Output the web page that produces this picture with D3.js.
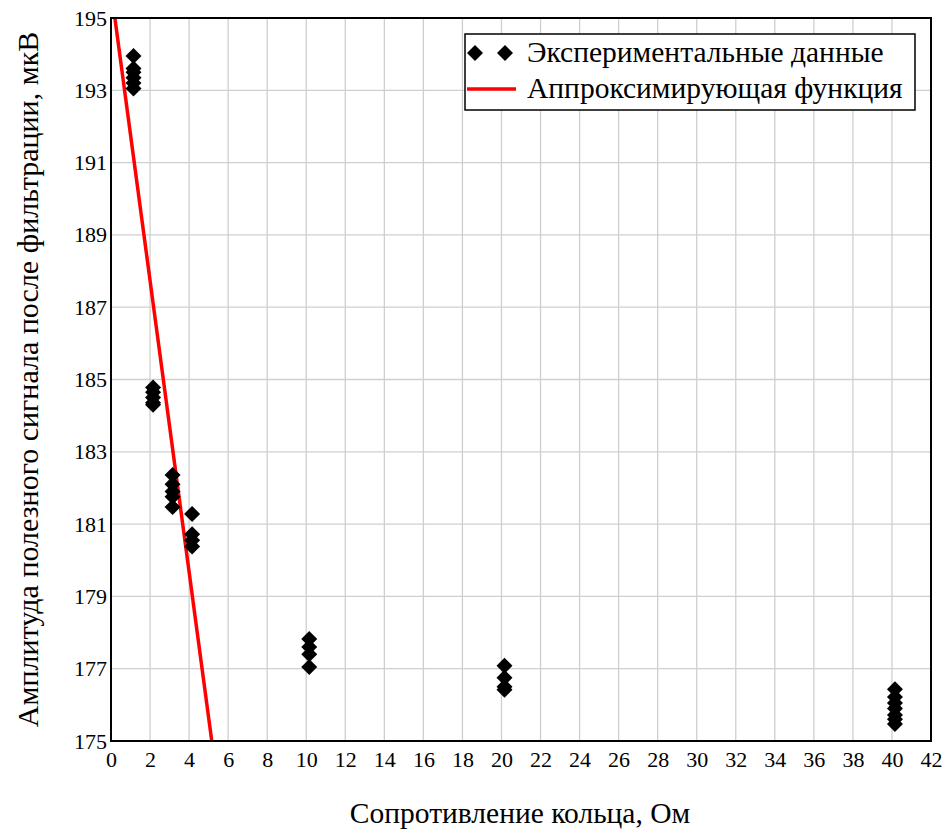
<!DOCTYPE html>
<html>
<head>
<meta charset="utf-8">
<script src="https://cdn.jsdelivr.net/npm/d3@7"></script>
<style>
  body { margin: 0; background: #fff; }
  svg { display: block; font-family: "Liberation Serif", "Times New Roman", serif; }
</style>
</head>
<body>
<svg id="chart" width="951" height="829"></svg>
<script>
// resistance categories (Ohm) and measured amplitudes (uV)
var resist = [1, 2, 3, 4, 10, 20, 40];
var measured = [
  [193.95, 193.6, 193.5, 193.35, 193.2, 193.05],
  [184.78, 184.65, 184.5, 184.36, 184.3],
  [182.36, 182.1, 181.9, 181.76, 181.47],
  [181.28, 180.72, 180.55, 180.38],
  [177.82, 177.6, 177.4, 177.05],
  [177.08, 176.75, 176.5, 176.42],
  [176.43, 176.22, 176.05, 175.9, 175.72, 175.6, 175.47]
];
// approximating line y = a - b*x
var fitA = 195.8;
var fitB = 4.03;
var xTicks = d3.range(0, 43, 2);
var yTicks = d3.range(175, 196, 2);

(function drawChart () {
  var pLeft = 111, pTop = 18, pRight = 931, pBottom = 741;
  var svg = d3.select('#chart');

  var x = d3.scaleLinear().domain([0, 42]).range([pLeft, pRight]);
  var y = d3.scaleLinear().domain([175, 195]).range([pBottom, pTop]);

  // grid
  svg.append('g')
    .selectAll('line')
    .data(xTicks)
    .join('line')
    .attr('x1', x).attr('x2', x)
    .attr('y1', pTop).attr('y2', pBottom)
    .attr('stroke', '#cfcfcf')
    .attr('stroke-width', 1.3);

  svg.append('g')
    .selectAll('line')
    .data(yTicks)
    .join('line')
    .attr('x1', pLeft).attr('x2', pRight)
    .attr('y1', y).attr('y2', y)
    .attr('stroke', '#cfcfcf')
    .attr('stroke-width', 1.3);

  // axes (labels only)
  var xAxis = svg.append('g')
    .attr('transform', 'translate(0,' + pBottom + ')')
    .call(d3.axisBottom(x).tickValues(xTicks).tickSize(0).tickPadding(10));
  var yAxis = svg.append('g')
    .attr('transform', 'translate(' + pLeft + ',0)')
    .call(d3.axisLeft(y).tickValues(yTicks).tickSize(0).tickPadding(4));

  [xAxis, yAxis].forEach(function (ax) {
    ax.select('.domain').remove();
    ax.selectAll('text')
      .attr('fill', '#000')
      .style('font-family', '"Liberation Serif", serif')
      .style('font-size', '22px');
  });

  // clip for the fit line
  svg.append('clipPath').attr('id', 'plot-clip')
    .append('rect')
    .attr('x', pLeft).attr('y', pTop)
    .attr('width', pRight - pLeft).attr('height', pBottom - pTop);

  var fitX = [0, (fitA - 175) / fitB];
  svg.append('path')
    .attr('clip-path', 'url(#plot-clip)')
    .attr('d', d3.line()
      .x(function (d) { return x(d); })
      .y(function (d) { return y(fitA - fitB * d); })(fitX))
    .attr('fill', 'none')
    .attr('stroke', '#ff0000')
    .attr('stroke-width', 3.5);

  // experimental points
  var points = [];
  resist.forEach(function (r, i) {
    measured[i].forEach(function (v) { points.push([r, v]); });
  });

  var diamond = d3.symbol().type(d3.symbolSquare).size(128);
  svg.append('g')
    .selectAll('path')
    .data(points)
    .join('path')
    .attr('d', diamond)
    .attr('transform', function (d) {
      return 'translate(' + (x(d[0]) + 3) + ',' + y(d[1]) + ') rotate(45)';
    })
    .attr('fill', '#000');

  // frame
  svg.append('rect')
    .attr('x', pLeft).attr('y', pTop)
    .attr('width', pRight - pLeft).attr('height', pBottom - pTop)
    .attr('fill', 'none')
    .attr('stroke', '#000')
    .attr('stroke-width', 2);

  // legend
  var legend = svg.append('g');
  legend.append('rect')
    .attr('x', 465).attr('y', 34)
    .attr('width', 450).attr('height', 76)
    .attr('fill', '#fff')
    .attr('stroke', '#000')
    .attr('stroke-width', 1.5);
  [475, 505].forEach(function (px) {
    legend.append('path')
      .attr('d', diamond)
      .attr('transform', 'translate(' + px + ',53) rotate(45)')
      .attr('fill', '#000');
  });
  legend.append('line')
    .attr('x1', 467).attr('x2', 516)
    .attr('y1', 89).attr('y2', 89)
    .attr('stroke', '#ff0000')
    .attr('stroke-width', 3.5);
  legend.append('text')
    .attr('x', 527).attr('y', 62)
    .style('font-size', '29.5px')
    .text('Экспериментальные данные');
  legend.append('text')
    .attr('x', 527).attr('y', 98)
    .style('font-size', '29.5px')
    .text('Аппроксимирующая функция');

  // axis titles
  svg.append('text')
    .attr('x', 520).attr('y', 823)
    .attr('text-anchor', 'middle')
    .style('font-size', '29.5px')
    .text('Сопротивление кольца, Ом');
  svg.append('text')
    .attr('transform', 'translate(38,' + ((pTop + pBottom) / 2) + ') rotate(-90)')
    .attr('text-anchor', 'middle')
    .style('font-size', '30px')
    .text('Амплитуда полезного сигнала после фильтрации, мкВ');
})();
</script>
</body>
</html>
